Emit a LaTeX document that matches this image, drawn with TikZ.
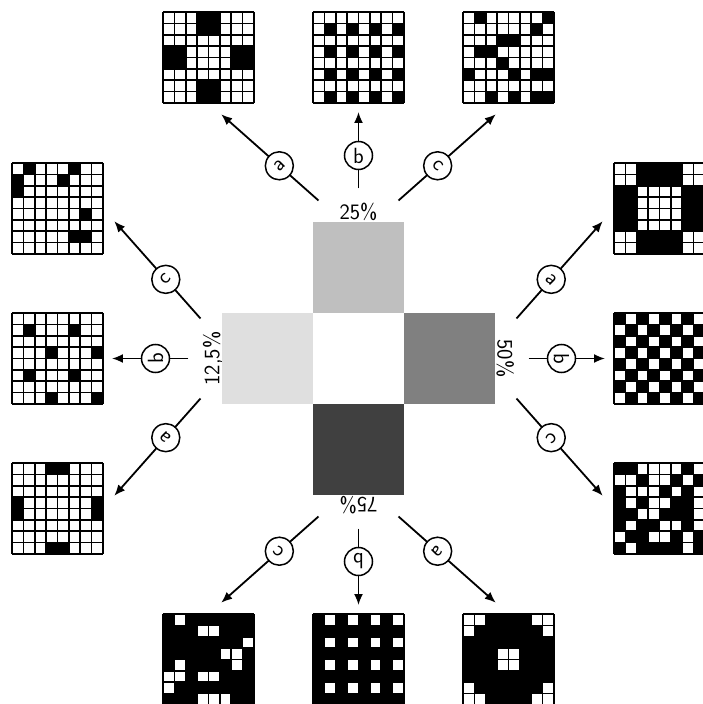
\documentclass[tikz,border=0pt]{standalone}
\usetikzlibrary{arrows.meta}
\begin{document}
\begin{tikzpicture}[x=1pt,y=1pt,
  font=\sffamily\fontsize{22}{26}\selectfont,
  gridnode/.style={draw=none,minimum size=91pt,inner sep=0pt,outer sep=0pt,rectangle},
  gridline/.style={black,line width=1.7pt},
  sq/.style={draw=none,minimum size=91pt,inner sep=0pt,outer sep=0pt,rectangle},
  pct/.style={anchor=base,inner sep=0pt},
  arr/.style={line width=1.8pt,-{Latex[length=11pt,width=9pt]}},
  lab/.style={circle,draw,fill=white,line width=1.5pt,inner sep=1.5pt,minimum size=28pt}]
\fill[white] (-358.5,-345.5) rectangle (344.5,358.5);
\useasboundingbox (-358.5,-345.5) rectangle (344.5,358.5);
% grid macro: name, position, background, cell colour, cells (col/row)
\newcommand{\mygrid}[5]{%
  \node[gridnode,fill=#3] (#1) at (#2) {};
  \begin{scope}[shift={(#1.north west)}]
    \foreach \c/\r in {#5} {\fill[#4] (\c*11.375,-\r*11.375) rectangle ++(11.375,-11.375);}
    \foreach \i in {0,...,8} {
      \draw[gridline] (\i*11.375,0) -- ++(0,-91);
      \draw[gridline] (0,-\i*11.375) -- ++(91,0);}
  \end{scope}}
% top grids (25%)
\mygrid{GTa}{-150,301}{white}{black}{3/0,4/0,3/1,4/1,0/3,1/3,6/3,7/3,0/4,1/4,6/4,7/4,3/6,4/6,3/7,4/7}
\mygrid{GTb}{0,301}{white}{black}{1/1,3/1,5/1,7/1,1/3,3/3,5/3,7/3,1/5,3/5,5/5,7/5,1/7,3/7,5/7,7/7}
\mygrid{GTc}{150,301}{white}{black}{1/0,7/0,6/1,3/2,4/2,1/3,2/3,3/4,0/5,4/5,6/5,7/5,2/7,4/7,6/7,7/7}
% left grids (12,5%)
\mygrid{GLa}{-301,-150}{white}{black}{3/0,4/0,0/3,7/3,0/4,7/4,3/7,4/7}
\mygrid{GLb}{-301,0}{white}{black}{1/1,5/1,3/3,7/3,1/5,5/5,3/7,7/7}
\mygrid{GLc}{-301,150}{white}{black}{1/0,5/0,0/1,4/1,0/2,6/4,5/6,6/6}
% right grids (50%)
\mygrid{GRa}{301,150}{white}{black}{2/0,3/0,4/0,5/0,2/1,3/1,4/1,5/1,0/2,1/2,6/2,7/2,0/3,1/3,6/3,7/3,0/4,1/4,6/4,7/4,0/5,1/5,6/5,7/5,2/6,3/6,4/6,5/6,2/7,3/7,4/7,5/7}
\mygrid{GRb}{301,0}{white}{black}{0/0,2/0,4/0,6/0,1/1,3/1,5/1,7/1,0/2,2/2,4/2,6/2,1/3,3/3,5/3,7/3,0/4,2/4,4/4,6/4,1/5,3/5,5/5,7/5,0/6,2/6,4/6,6/6,1/7,3/7,5/7,7/7}
\mygrid{GRc}{301,-150}{black}{white}{2/0,3/0,4/0,5/0,7/0,0/1,1/1,3/1,4/1,6/1,1/2,2/2,3/2,5/2,7/2,1/3,3/3,4/3,7/3,2/4,3/4,7/4,1/5,4/5,5/5,7/5,0/6,3/6,4/6,6/6,1/7,6/7}
% bottom grids (75%)
\mygrid{GBa}{150,-301}{black}{white}{0/0,1/0,6/0,7/0,0/1,7/1,3/3,4/3,3/4,4/4,0/6,7/6,0/7,1/7,6/7,7/7}
\mygrid{GBb}{0,-301}{black}{white}{1/0,3/0,5/0,7/0,1/2,3/2,5/2,7/2,1/4,3/4,5/4,7/4,1/6,3/6,5/6,7/6}
\mygrid{GBc}{-150,-301}{black}{white}{1/0,3/1,4/1,7/2,5/3,6/3,1/4,6/4,0/5,1/5,3/5,4/5,0/6,3/7,4/7,5/7}
% centre square
\node[sq,fill=white] (C) at (0,0) {};
% group macro: key, angle, grey, text, grid a, grid b, grid c, anchor
\newcommand{\mygroup}[8]{%
  \begin{scope}[rotate=#2]
    \node[sq,fill=#3] (S#1) at (0,91) {};
    \node[pct,transform shape] (P#1) at (0,139) {#4};
    \coordinate (A#1) at (-40,158);
    \coordinate (B#1) at (0,170);
    \coordinate (K#1) at (40,158);
    \draw[arr,shorten >=17pt] (A#1) -- node[lab,pos=0.356,rotate=45,transform shape] {a} (#5.#8);
    \draw[arr,shorten >=9pt] (B#1) -- node[lab,pos=0.386,transform shape] {b} (#6.#8);
    \draw[arr,shorten >=17pt] (K#1) -- node[lab,pos=0.356,rotate=-45,transform shape] {c} (#7.#8);
  \end{scope}}
\mygroup{T}{0}{black!25}{25\%}{GTa}{GTb}{GTc}{south}
\mygroup{L}{90}{black!12.5}{12,5\%}{GLa}{GLb}{GLc}{east}
\mygroup{R}{-90}{black!50}{50\%}{GRa}{GRb}{GRc}{west}
\mygroup{B}{180}{black!75}{75\%}{GBa}{GBb}{GBc}{north}
\end{tikzpicture}
\end{document}
